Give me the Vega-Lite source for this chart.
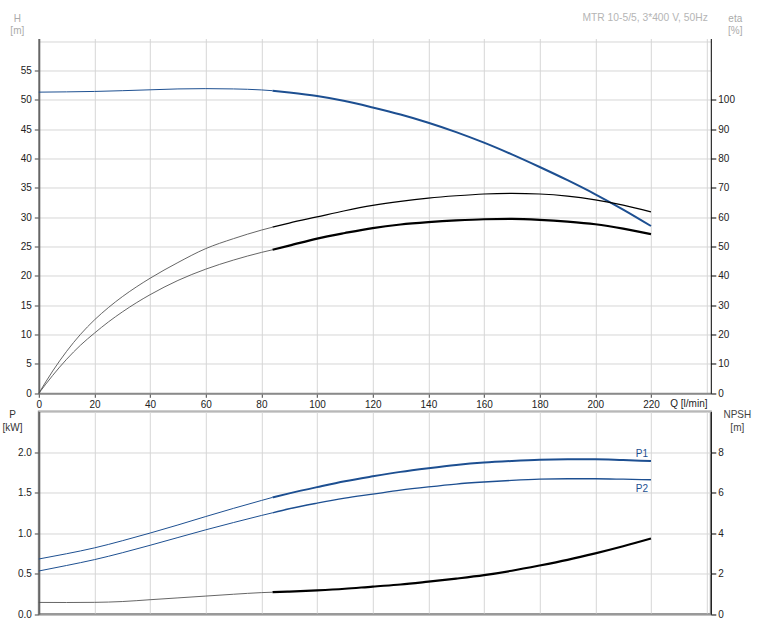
{
  "$schema": "https://vega.github.io/schema/vega-lite/v6.json",
  "background": "white",
  "padding": {"left": 0.8, "top": 12.5, "right": 2, "bottom": 2},
  "spacing": -4,
  "config": {
    "font": "Liberation Sans",
    "view": {"stroke": null},
    "axis": {
      "labelFont": "Liberation Sans", "labelFontSize": 10, "labelColor": "#222",
      "titleFont": "Liberation Sans", "titleFontSize": 10, "titleFontWeight": "normal",
      "gridColor": "#d6d6d6", "gridWidth": 1, "tickColor": "#444", "labelFlush": false, "labelOverlap": false
    },
    "line": {"interpolate": "monotone"}
  },
  "datasets": {
    "top": [
      {"curve":"H","zone":"ext","Q":0,"v":51.3},{"curve":"H","zone":"ext","Q":10,"v":51.35},{"curve":"H","zone":"ext","Q":20,"v":51.42},{"curve":"H","zone":"ext","Q":30,"v":51.55},{"curve":"H","zone":"ext","Q":40,"v":51.7},{"curve":"H","zone":"ext","Q":50,"v":51.85},{"curve":"H","zone":"ext","Q":60,"v":51.9},{"curve":"H","zone":"ext","Q":70,"v":51.85},{"curve":"H","zone":"ext","Q":80,"v":51.68},{"curve":"H","zone":"ext","Q":84,"v":51.55},
      {"curve":"H","zone":"op","Q":84,"v":51.55},{"curve":"H","zone":"op","Q":90,"v":51.25},{"curve":"H","zone":"op","Q":100,"v":50.65},{"curve":"H","zone":"op","Q":110,"v":49.8},{"curve":"H","zone":"op","Q":120,"v":48.7},{"curve":"H","zone":"op","Q":130,"v":47.5},{"curve":"H","zone":"op","Q":140,"v":46.1},{"curve":"H","zone":"op","Q":150,"v":44.5},{"curve":"H","zone":"op","Q":160,"v":42.7},{"curve":"H","zone":"op","Q":170,"v":40.7},{"curve":"H","zone":"op","Q":180,"v":38.55},{"curve":"H","zone":"op","Q":190,"v":36.3},{"curve":"H","zone":"op","Q":200,"v":33.9},{"curve":"H","zone":"op","Q":210,"v":31.3},{"curve":"H","zone":"op","Q":220,"v":28.5},
      {"curve":"eta1","zone":"ext","Q":0,"v":0},{"curve":"eta1","zone":"ext","Q":5,"v":7.6},{"curve":"eta1","zone":"ext","Q":10,"v":14.3},{"curve":"eta1","zone":"ext","Q":15,"v":20.1},{"curve":"eta1","zone":"ext","Q":20,"v":25.0},{"curve":"eta1","zone":"ext","Q":25,"v":29.2},{"curve":"eta1","zone":"ext","Q":30,"v":32.9},{"curve":"eta1","zone":"ext","Q":35,"v":36.2},{"curve":"eta1","zone":"ext","Q":40,"v":39.2},{"curve":"eta1","zone":"ext","Q":50,"v":44.55},{"curve":"eta1","zone":"ext","Q":60,"v":49.3},{"curve":"eta1","zone":"ext","Q":70,"v":52.7},{"curve":"eta1","zone":"ext","Q":80,"v":55.6},{"curve":"eta1","zone":"ext","Q":84,"v":56.6},
      {"curve":"eta1","zone":"op","Q":84,"v":56.6},{"curve":"eta1","zone":"op","Q":90,"v":58},{"curve":"eta1","zone":"op","Q":100,"v":60.1},{"curve":"eta1","zone":"op","Q":110,"v":62.2},{"curve":"eta1","zone":"op","Q":120,"v":64.0},{"curve":"eta1","zone":"op","Q":130,"v":65.4},{"curve":"eta1","zone":"op","Q":140,"v":66.5},{"curve":"eta1","zone":"op","Q":150,"v":67.3},{"curve":"eta1","zone":"op","Q":160,"v":67.9},{"curve":"eta1","zone":"op","Q":170,"v":68.1},{"curve":"eta1","zone":"op","Q":180,"v":67.9},{"curve":"eta1","zone":"op","Q":190,"v":67.2},{"curve":"eta1","zone":"op","Q":200,"v":65.9},{"curve":"eta1","zone":"op","Q":210,"v":64.1},{"curve":"eta1","zone":"op","Q":220,"v":61.8},
      {"curve":"eta2","zone":"ext","Q":0,"v":0},{"curve":"eta2","zone":"ext","Q":5,"v":6.1},{"curve":"eta2","zone":"ext","Q":10,"v":11.6},{"curve":"eta2","zone":"ext","Q":15,"v":16.4},{"curve":"eta2","zone":"ext","Q":20,"v":20.5},{"curve":"eta2","zone":"ext","Q":25,"v":24.3},{"curve":"eta2","zone":"ext","Q":30,"v":27.7},{"curve":"eta2","zone":"ext","Q":35,"v":30.8},{"curve":"eta2","zone":"ext","Q":40,"v":33.6},{"curve":"eta2","zone":"ext","Q":50,"v":38.45},{"curve":"eta2","zone":"ext","Q":60,"v":42.3},{"curve":"eta2","zone":"ext","Q":70,"v":45.4},{"curve":"eta2","zone":"ext","Q":80,"v":48.0},{"curve":"eta2","zone":"ext","Q":84,"v":48.9},
      {"curve":"eta2","zone":"op","Q":84,"v":48.9},{"curve":"eta2","zone":"op","Q":90,"v":50.3},{"curve":"eta2","zone":"op","Q":100,"v":52.7},{"curve":"eta2","zone":"op","Q":110,"v":54.6},{"curve":"eta2","zone":"op","Q":120,"v":56.3},{"curve":"eta2","zone":"op","Q":130,"v":57.5},{"curve":"eta2","zone":"op","Q":140,"v":58.3},{"curve":"eta2","zone":"op","Q":150,"v":58.9},{"curve":"eta2","zone":"op","Q":160,"v":59.3},{"curve":"eta2","zone":"op","Q":170,"v":59.4},{"curve":"eta2","zone":"op","Q":180,"v":59.1},{"curve":"eta2","zone":"op","Q":190,"v":58.5},{"curve":"eta2","zone":"op","Q":200,"v":57.6},{"curve":"eta2","zone":"op","Q":210,"v":56.1},{"curve":"eta2","zone":"op","Q":220,"v":54.2}
    ],
    "bottom": [
      {"curve":"P1","zone":"ext","Q":0,"v":0.68},{"curve":"P1","zone":"ext","Q":10,"v":0.745},{"curve":"P1","zone":"ext","Q":20,"v":0.817},{"curve":"P1","zone":"ext","Q":30,"v":0.905},{"curve":"P1","zone":"ext","Q":40,"v":1.0},{"curve":"P1","zone":"ext","Q":50,"v":1.1},{"curve":"P1","zone":"ext","Q":60,"v":1.204},{"curve":"P1","zone":"ext","Q":70,"v":1.305},{"curve":"P1","zone":"ext","Q":80,"v":1.402},{"curve":"P1","zone":"ext","Q":84,"v":1.44},
      {"curve":"P1","zone":"op","Q":84,"v":1.44},{"curve":"P1","zone":"op","Q":90,"v":1.49},{"curve":"P1","zone":"op","Q":100,"v":1.567},{"curve":"P1","zone":"op","Q":110,"v":1.64},{"curve":"P1","zone":"op","Q":120,"v":1.7},{"curve":"P1","zone":"op","Q":130,"v":1.755},{"curve":"P1","zone":"op","Q":140,"v":1.8},{"curve":"P1","zone":"op","Q":150,"v":1.84},{"curve":"P1","zone":"op","Q":160,"v":1.87},{"curve":"P1","zone":"op","Q":170,"v":1.89},{"curve":"P1","zone":"op","Q":180,"v":1.905},{"curve":"P1","zone":"op","Q":190,"v":1.91},{"curve":"P1","zone":"op","Q":200,"v":1.91},{"curve":"P1","zone":"op","Q":210,"v":1.9},{"curve":"P1","zone":"op","Q":220,"v":1.889},
      {"curve":"P2","zone":"ext","Q":0,"v":0.532},{"curve":"P2","zone":"ext","Q":10,"v":0.6},{"curve":"P2","zone":"ext","Q":20,"v":0.672},{"curve":"P2","zone":"ext","Q":30,"v":0.757},{"curve":"P2","zone":"ext","Q":40,"v":0.849},{"curve":"P2","zone":"ext","Q":50,"v":0.945},{"curve":"P2","zone":"ext","Q":60,"v":1.04},{"curve":"P2","zone":"ext","Q":70,"v":1.13},{"curve":"P2","zone":"ext","Q":80,"v":1.217},{"curve":"P2","zone":"ext","Q":84,"v":1.25},
      {"curve":"P2","zone":"op","Q":84,"v":1.25},{"curve":"P2","zone":"op","Q":90,"v":1.3},{"curve":"P2","zone":"op","Q":100,"v":1.369},{"curve":"P2","zone":"op","Q":110,"v":1.43},{"curve":"P2","zone":"op","Q":120,"v":1.48},{"curve":"P2","zone":"op","Q":130,"v":1.53},{"curve":"P2","zone":"op","Q":140,"v":1.57},{"curve":"P2","zone":"op","Q":150,"v":1.605},{"curve":"P2","zone":"op","Q":160,"v":1.63},{"curve":"P2","zone":"op","Q":170,"v":1.65},{"curve":"P2","zone":"op","Q":180,"v":1.665},{"curve":"P2","zone":"op","Q":190,"v":1.67},{"curve":"P2","zone":"op","Q":200,"v":1.67},{"curve":"P2","zone":"op","Q":210,"v":1.665},{"curve":"P2","zone":"op","Q":220,"v":1.658},
      {"curve":"NPSH","zone":"ext","Q":0,"v":0.576},{"curve":"NPSH","zone":"ext","Q":10,"v":0.572},{"curve":"NPSH","zone":"ext","Q":20,"v":0.58},{"curve":"NPSH","zone":"ext","Q":30,"v":0.62},{"curve":"NPSH","zone":"ext","Q":40,"v":0.71},{"curve":"NPSH","zone":"ext","Q":50,"v":0.8},{"curve":"NPSH","zone":"ext","Q":60,"v":0.89},{"curve":"NPSH","zone":"ext","Q":70,"v":0.98},{"curve":"NPSH","zone":"ext","Q":80,"v":1.06},{"curve":"NPSH","zone":"ext","Q":84,"v":1.08},
      {"curve":"NPSH","zone":"op","Q":84,"v":1.08},{"curve":"NPSH","zone":"op","Q":90,"v":1.11},{"curve":"NPSH","zone":"op","Q":100,"v":1.17},{"curve":"NPSH","zone":"op","Q":110,"v":1.25},{"curve":"NPSH","zone":"op","Q":120,"v":1.36},{"curve":"NPSH","zone":"op","Q":130,"v":1.46},{"curve":"NPSH","zone":"op","Q":140,"v":1.6},{"curve":"NPSH","zone":"op","Q":150,"v":1.75},{"curve":"NPSH","zone":"op","Q":160,"v":1.92},{"curve":"NPSH","zone":"op","Q":170,"v":2.14},{"curve":"NPSH","zone":"op","Q":180,"v":2.4},{"curve":"NPSH","zone":"op","Q":190,"v":2.68},{"curve":"NPSH","zone":"op","Q":200,"v":3.0},{"curve":"NPSH","zone":"op","Q":210,"v":3.35},{"curve":"NPSH","zone":"op","Q":220,"v":3.73}
    ]
  },
  "vconcat": [
    {
      "width": 672, "height": 354.8,
      "title": {"text": "MTR 10-5/5, 3*400 V, 50Hz", "anchor": "end", "frame": "group", "fontSize": 10.3, "fontWeight": "normal", "color": "#b5b5b5", "font": "Liberation Sans", "offset": -10, "dx": -3},
      "data": {"name": "top"},
      "encoding": {
        "x": {"field": "Q", "type": "quantitative", "scale": {"domain": [0, 241.5], "nice": false, "zero": false},
          "axis": {"values": [0,20,40,60,80,100,120,140,160,180,200,220,240],
            "labelExpr": "datum.value > 230 ? '' : datum.label",
            "tickOpacity": {"condition": {"test": "datum.value > 230", "value": 0}, "value": 1},
            "tickSize": 4, "labelPadding": 2, "domainColor": "#8a8a8a", "domainWidth": 2, "grid": true,
            "title": "Q [l/min]", "titleX": 631, "titleY": 10.5, "titleAlign": "left", "titleBaseline": "middle", "titleColor": "#222"}}
      },
      "layer": [
        {
          "encoding": {"y": {"field": "v", "type": "quantitative", "scale": {"domain": [0, 60.44], "nice": false},
            "axis": {"orient": "left", "values": [0,5,10,15,20,25,30,35,40,45,50,55,60],
              "labelExpr": "datum.value > 57 ? '' : datum.label",
              "tickOpacity": {"condition": {"test": "datum.value > 57", "value": 0}, "value": 1},
              "tickSize": 4.5, "labelPadding": 3, "domainColor": "#666", "domainWidth": 2, "grid": true,
              "title": ["H", "[m]"], "titleAngle": 0, "titleX": -22, "titleY": -25.5, "titleAlign": "center", "titleBaseline": "top", "titleColor": "#aaaaaa", "titleLineHeight": 12.5}}},
          "layer": [
            {"transform": [{"filter": "datum.curve==='H' && datum.zone==='ext'"}], "mark": {"type": "line", "color": "#1d4f91", "strokeWidth": 1}},
            {"transform": [{"filter": "datum.curve==='H' && datum.zone==='op'"}], "mark": {"type": "line", "color": "#1d4f91", "strokeWidth": 2}}
          ]
        },
        {
          "encoding": {"y": {"field": "v", "type": "quantitative", "scale": {"domain": [0, 120.88], "nice": false},
            "axis": {"orient": "right", "values": [0,10,20,30,40,50,60,70,80,90,100], "grid": false,
              "tickSize": 5, "labelPadding": 2, "domainColor": "#000", "domainWidth": 1, "tickColor": "#000",
              "title": ["eta", "[%]"], "titleAngle": 0, "titleX": 24, "titleY": -25.5, "titleAlign": "center", "titleBaseline": "top", "titleColor": "#aaaaaa", "titleLineHeight": 12.5}}},
          "layer": [
            {"transform": [{"filter": "datum.curve==='eta1' && datum.zone==='ext'"}], "mark": {"type": "line", "color": "#555", "strokeWidth": 0.9}},
            {"transform": [{"filter": "datum.curve==='eta1' && datum.zone==='op'"}], "mark": {"type": "line", "color": "#000", "strokeWidth": 1.2}},
            {"transform": [{"filter": "datum.curve==='eta2' && datum.zone==='ext'"}], "mark": {"type": "line", "color": "#555", "strokeWidth": 0.9}},
            {"transform": [{"filter": "datum.curve==='eta2' && datum.zone==='op'"}], "mark": {"type": "line", "color": "#000", "strokeWidth": 2.2}}
          ]
        }
      ],
      "resolve": {"scale": {"y": "independent"}}
    },
    {
      "width": 672, "height": 202.6,
      "view": {"stroke": "#999", "strokeWidth": 2},
      "data": {"name": "bottom"},
      "encoding": {
        "x": {"field": "Q", "type": "quantitative", "scale": {"domain": [0, 241.5], "nice": false, "zero": false},
          "axis": {"values": [0,20,40,60,80,100,120,140,160,180,200,220,240], "labels": false, "ticks": false,
            "domainColor": "#999", "domainWidth": 2, "grid": true, "title": null}}
      },
      "layer": [
        {
          "encoding": {"y": {"field": "v", "type": "quantitative", "scale": {"domain": [0, 2.5], "nice": false},
            "axis": {"orient": "left", "values": [0,0.5,1,1.5,2,2.5], "format": ".1f",
              "labelExpr": "datum.value > 2.3 ? '' : datum.label",
              "tickOpacity": {"condition": {"test": "datum.value > 2.3", "value": 0}, "value": 1},
              "tickSize": 4.5, "labelPadding": 3, "domainColor": "#666", "domainWidth": 2, "grid": true,
              "title": ["P", "[kW]"], "titleAngle": 0, "titleX": -26.8, "titleY": -1.5, "titleAlign": "center", "titleBaseline": "top", "titleColor": "#333", "titleLineHeight": 12.5}}},
          "layer": [
            {"transform": [{"filter": "datum.curve==='P1' && datum.zone==='ext'"}], "mark": {"type": "line", "color": "#1d4f91", "strokeWidth": 1}},
            {"transform": [{"filter": "datum.curve==='P1' && datum.zone==='op'"}], "mark": {"type": "line", "color": "#1d4f91", "strokeWidth": 2}},
            {"transform": [{"filter": "datum.curve==='P2' && datum.zone==='ext'"}], "mark": {"type": "line", "color": "#1d4f91", "strokeWidth": 1}},
            {"transform": [{"filter": "datum.curve==='P2' && datum.zone==='op'"}], "mark": {"type": "line", "color": "#1d4f91", "strokeWidth": 1.3}},
            {"transform": [{"filter": "datum.curve==='P1' && datum.zone==='op' && datum.Q===220"}], "mark": {"type": "text", "align": "right", "baseline": "bottom", "dx": -3, "dy": -2, "fontSize": 10, "color": "#1d4f91"}, "encoding": {"text": {"field": "curve"}}},
            {"transform": [{"filter": "datum.curve==='P2' && datum.zone==='op' && datum.Q===220"}], "mark": {"type": "text", "align": "right", "baseline": "top", "dx": -3, "dy": 4, "fontSize": 10, "color": "#1d4f91"}, "encoding": {"text": {"field": "curve"}}}
          ]
        },
        {
          "encoding": {"y": {"field": "v", "type": "quantitative", "scale": {"domain": [0, 10], "nice": false},
            "axis": {"orient": "right", "values": [0,2,4,6,8,10],
              "labelExpr": "datum.value > 9 ? '' : datum.label",
              "tickOpacity": {"condition": {"test": "datum.value > 9", "value": 0}, "value": 1},
              "grid": false, "tickSize": 5, "labelPadding": 2, "domainColor": "#000", "domainWidth": 1, "tickColor": "#000",
              "title": ["NPSH", "[m]"], "titleAngle": 0, "titleX": 26, "titleY": -1.5, "titleAlign": "center", "titleBaseline": "top", "titleColor": "#444", "titleLineHeight": 12.5}}},
          "layer": [
            {"transform": [{"filter": "datum.curve==='NPSH' && datum.zone==='ext'"}], "mark": {"type": "line", "color": "#555", "strokeWidth": 0.9}},
            {"transform": [{"filter": "datum.curve==='NPSH' && datum.zone==='op'"}], "mark": {"type": "line", "color": "#000", "strokeWidth": 2.2}}
          ]
        }
      ],
      "resolve": {"scale": {"y": "independent"}}
    }
  ]
}
